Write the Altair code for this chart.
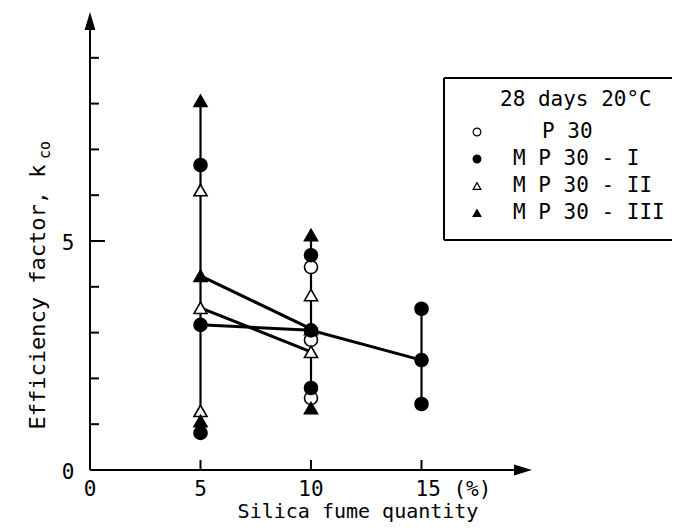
import altair as alt
import pandas as pd

# ---------------- data ----------------
series_names = ["P 30", "M P 30 - I", "M P 30 - II", "M P 30 - III"]
series_shapes = ["circle", "circle", "triangle-up", "triangle-up"]
series_fills = ["white", "black", "white", "black"]

# individual results (silica fume %, efficiency factor)
p30_x = [10, 10, 10]
p30_y = [4.43, 2.84, 1.57]
mp1_x = [5, 5, 5, 10, 10, 10, 15, 15, 15]
mp1_y = [6.66, 3.17, 0.81, 4.69, 3.05, 1.79, 3.52, 2.40, 1.44]
mp2_x = [5, 5, 5, 10, 10]
mp2_y = [6.11, 3.54, 1.29, 3.82, 2.58]
mp3_x = [5, 5, 5, 10, 10, 10]
mp3_y = [8.06, 4.24, 1.07, 5.13, 3.08, 1.35]

# mean lines
mp1_mean_x = [5, 10, 15]
mp1_mean_y = [3.17, 3.05, 2.40]
mp2_mean_x = [5, 10]
mp2_mean_y = [3.54, 2.58]
mp3_mean_x = [5, 10]
mp3_mean_y = [4.24, 3.08]

# axes
x_tick_vals = [5, 10, 15]
x_label_vals = [0, 5, 10]
x_label_text = ["0", "5", "10"]
x_last_label = "15 (%)"
y_minor_ticks = [1, 2, 3, 4, 6, 7, 8, 9]
y_major_ticks = [5]
y_label_vals = [0, 5]
y_label_text = ["0", "5"]
x_title = "Silica fume quantity"
y_title = "Efficiency factor, k"
y_title_sub = "co"
legend_title = "28 days 20°C"

# ---------------- tables ----------------
rows = []
for name, xs_, ys_ in [(series_names[0], p30_x, p30_y),
                       (series_names[1], mp1_x, mp1_y),
                       (series_names[2], mp2_x, mp2_y),
                       (series_names[3], mp3_x, mp3_y)]:
    for a, b in zip(xs_, ys_):
        rows.append({"series": name, "x": a, "y": b})
points = pd.DataFrame(rows)

mrows = []
for name, xs_, ys_ in [(series_names[1], mp1_mean_x, mp1_mean_y),
                       (series_names[2], mp2_mean_x, mp2_mean_y),
                       (series_names[3], mp3_mean_x, mp3_mean_y)]:
    for a, b in zip(xs_, ys_):
        mrows.append({"series": name, "x": a, "y": b})
means = pd.DataFrame(mrows)

W, H = 442, 458
X0, X1, Y0, Y1 = 0, 20, 0, 10
FONT = "DejaVu Sans Mono"


def px2x(px):
    return X0 + (X1 - X0) * px / W


def px2y(py):
    return Y0 + (Y1 - Y0) * (H - py) / H


xs = alt.Scale(domain=[X0, X1], nice=False, zero=False)
ys = alt.Scale(domain=[Y0, Y1], nice=False, zero=False)
shape_scale = alt.Scale(domain=series_names, range=series_shapes)
fill_scale = alt.Scale(domain=series_names, range=series_fills)


def X(f):
    return alt.X(f, type="quantitative", scale=xs, axis=None)


def Y(f):
    return alt.Y(f, type="quantitative", scale=ys, axis=None)


one = pd.DataFrame({"a": [0]})

# axis frame table
frame = pd.DataFrame({"x0": [X0], "x1": [X1 - 0.5], "y0": [Y0], "y1": [Y1 - 0.3]})
arrows_up = pd.DataFrame({"x": [X0], "y": [Y1]})
arrows_right = pd.DataFrame({"x": [X1], "y": [Y0]})

# legend table (positions derived from row index)
leg = pd.DataFrame({
    "series": series_names,
    "row": list(range(len(series_names))),
})
leg["sy"] = [px2y(120 + 27 * r) for r in leg["row"]]
leg["sx"] = px2x(387)
leg["lx"] = [px2x(452) if r == 0 else px2x(423) for r in leg["row"]]

# ---------------- layers ----------------
# legend frame: open on the right (cut by the picture edge)
box_top = alt.Chart(one).mark_rule(color="black", strokeWidth=2).encode(
    x=alt.value(354), x2=alt.value(760), y=alt.value(66))
box_bottom = alt.Chart(one).mark_rule(color="black", strokeWidth=2).encode(
    x=alt.value(354), x2=alt.value(760), y=alt.value(228))
box_left = alt.Chart(one).mark_rule(color="black", strokeWidth=2).encode(
    x=alt.value(354), y=alt.value(66), y2=alt.value(228))

x_axis = alt.Chart(frame).mark_rule(color="black", strokeWidth=2).encode(
    x=X("x0"), x2="x1", y=Y("y0"))
y_axis = alt.Chart(frame).mark_rule(color="black", strokeWidth=2).encode(
    x=X("x0"), y=Y("y0"), y2="y1")

arrow_up = alt.Chart(arrows_up).mark_point(
    shape="M0,0L0.6,2L-0.6,2Z", filled=True, fill="black", strokeWidth=0, size=324, opacity=1
).encode(x=X("x"), y=Y("y"))
arrow_right = alt.Chart(arrows_right).mark_point(
    shape="M0,0L-2,-0.6L-2,0.6Z", filled=True, fill="black", strokeWidth=0, size=324, opacity=1
).encode(x=X("x"), y=Y("y"))

x_ticks = alt.Chart(pd.DataFrame({"v": x_tick_vals})).mark_rule(color="black", strokeWidth=2).encode(
    x=X("v"), y=alt.value(H), y2=alt.value(H - 10))
y_ticks_minor = alt.Chart(pd.DataFrame({"v": y_minor_ticks})).mark_rule(color="black", strokeWidth=2).encode(
    y=Y("v"), x=alt.value(0), x2=alt.value(9))
y_ticks_major = alt.Chart(pd.DataFrame({"v": y_major_ticks})).mark_rule(color="black", strokeWidth=2).encode(
    y=Y("v"), x=alt.value(0), x2=alt.value(15))

ranges = alt.Chart(points).mark_rule(color="black", strokeWidth=2.2).encode(
    x=X("x"),
    y=alt.Y("min(y):Q", scale=ys, axis=None),
    y2="max(y):Q")

lines = alt.Chart(means).mark_line(color="black", strokeWidth=3).encode(
    x=X("x"), y=Y("y"), detail="series:N")

pts = alt.Chart(points).mark_point(filled=True, stroke="black", strokeWidth=1.6, size=170, opacity=1).encode(
    x=X("x"), y=Y("y"),
    shape=alt.Shape("series:N", scale=shape_scale, legend=None),
    fill=alt.Fill("series:N", scale=fill_scale, legend=None))

y_labels = alt.Chart(pd.DataFrame({"v": y_label_vals, "t": y_label_text, "z": 0})).mark_text(
    font=FONT, fontSize=21, align="center", baseline="middle", dx=-22, dy=3, color="black").encode(
    x=X("z"), y=Y("v"), text="t:N")

x_labels = alt.Chart(pd.DataFrame({"v": x_label_vals, "t": x_label_text, "z": 0})).mark_text(
    font=FONT, fontSize=21, align="center", baseline="middle", dy=20, color="black").encode(
    x=X("v"), y=Y("z"), text="t:N")

x_label_last = alt.Chart(pd.DataFrame({"v": [x_tick_vals[-1]], "t": [x_last_label], "z": [0]})).mark_text(
    font=FONT, fontSize=21, align="left", baseline="middle", dx=-6, dy=20, color="black").encode(
    x=X("v"), y=Y("z"), text="t:N")

x_title_t = alt.Chart(pd.DataFrame({"t": [x_title]})).mark_text(
    font=FONT, fontSize=20, align="center", baseline="middle", color="black").encode(
    x=alt.value(268), y=alt.value(H + 42), text="t:N")

y_title_t = alt.Chart(pd.DataFrame({"t": [y_title]})).mark_text(
    font=FONT, fontSize=22, align="center", baseline="middle", angle=270, color="black").encode(
    x=alt.value(-52), y=alt.value(285), text="t:N")
y_title_s = alt.Chart(pd.DataFrame({"t": [y_title_sub]})).mark_text(
    font=FONT, fontSize=15, align="center", baseline="middle", angle=270, color="black").encode(
    x=alt.value(-45), y=alt.value(138), text="t:N")

leg_title = alt.Chart(pd.DataFrame({"t": [legend_title]})).mark_text(
    font=FONT, fontSize=21, align="left", baseline="middle", color="black").encode(
    x=alt.value(410), y=alt.value(88), text="t:N")

leg_sym = alt.Chart(leg).mark_point(filled=True, stroke="black", strokeWidth=1.2, size=60, opacity=1).encode(
    x=X("sx"), y=Y("sy"),
    shape=alt.Shape("series:N", scale=shape_scale, legend=None),
    fill=alt.Fill("series:N", scale=fill_scale, legend=None))

leg_text = alt.Chart(leg).mark_text(
    font=FONT, fontSize=21, align="left", baseline="middle", color="black").encode(
    x=X("lx"), y=Y("sy"), text="series:N")

chart = alt.layer(
    box_top, box_bottom, box_left, x_axis, y_axis, arrow_up, arrow_right, x_ticks, y_ticks_minor,
    y_ticks_major, ranges, lines, pts, y_labels, x_labels, x_label_last, x_title_t, y_title_t,
    y_title_s, leg_title, leg_sym, leg_text
).properties(
    width=W, height=H,
    padding={"left": 82, "top": 4, "right": 140, "bottom": 52},
    autosize=alt.AutoSizeParams(type="none"),
    background="white",
).configure_view(stroke=None)

chart.save("out.html", embed_options={"renderer": "svg", "actions": False})
